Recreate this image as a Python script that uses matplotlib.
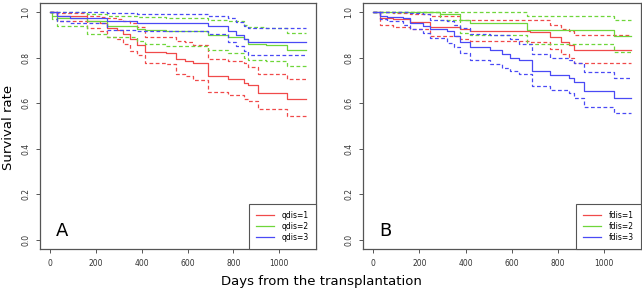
import matplotlib
matplotlib.use("Agg")
import matplotlib.pyplot as plt

# Kaplan-Meier estimates (days, survival, lower CI, upper CI)
end_day = 1116

# panel A - qdis groups
qdis1_t = [29, 159, 217, 246, 290, 319, 348, 377, 413, 507, 551, 587, 623, 688, 775, 848, 862, 906, 1036]
qdis1_s = [0.985, 0.96, 0.95, 0.93, 0.92, 0.905, 0.88, 0.855, 0.825, 0.82, 0.795, 0.785, 0.775, 0.72, 0.705, 0.69, 0.68, 0.645, 0.62]
qdis1_lo = [0.96, 0.93, 0.915, 0.89, 0.88, 0.86, 0.83, 0.81, 0.775, 0.77, 0.73, 0.72, 0.70, 0.65, 0.635, 0.62, 0.61, 0.575, 0.545]
qdis1_hi = [0.998, 0.985, 0.98, 0.975, 0.97, 0.96, 0.95, 0.935, 0.89, 0.89, 0.875, 0.87, 0.855, 0.795, 0.785, 0.775, 0.76, 0.73, 0.705]

qdis2_t = [8, 29, 159, 246, 377, 413, 507, 688, 775, 848, 862, 942, 1036]
qdis2_s = [0.985, 0.975, 0.96, 0.94, 0.925, 0.92, 0.915, 0.90, 0.89, 0.88, 0.86, 0.855, 0.835]
qdis2_lo = [0.97, 0.94, 0.905, 0.89, 0.875, 0.86, 0.85, 0.835, 0.82, 0.80, 0.79, 0.785, 0.765]
qdis2_hi = [1.0, 1.0, 0.99, 0.985, 0.98, 0.98, 0.975, 0.965, 0.96, 0.945, 0.935, 0.93, 0.91]

qdis3_t = [29, 87, 246, 377, 688, 775, 812, 848, 862]
qdis3_s = [0.985, 0.975, 0.96, 0.95, 0.94, 0.915, 0.90, 0.88, 0.87]
qdis3_lo = [0.96, 0.95, 0.92, 0.915, 0.905, 0.87, 0.85, 0.83, 0.81]
qdis3_hi = [1.0, 1.0, 0.995, 0.99, 0.985, 0.975, 0.955, 0.94, 0.93]

# panel B - fdis groups
fdis1_t = [29, 87, 159, 246, 377, 420, 681, 768, 812, 848, 870]
fdis1_s = [0.975, 0.97, 0.955, 0.935, 0.925, 0.915, 0.912, 0.89, 0.87, 0.855, 0.835]
fdis1_lo = [0.945, 0.935, 0.925, 0.895, 0.88, 0.875, 0.87, 0.84, 0.815, 0.80, 0.775]
fdis1_hi = [1.0, 0.995, 0.99, 0.985, 0.965, 0.965, 0.965, 0.945, 0.925, 0.915, 0.90]

fdis2_t = [290, 377, 420, 667, 1043]
fdis2_s = [0.99, 0.965, 0.95, 0.92, 0.895]
fdis2_lo = [0.965, 0.91, 0.90, 0.86, 0.825]
fdis2_hi = [1.0, 1.0, 1.0, 0.985, 0.965]

fdis3_t = [29, 58, 130, 159, 217, 246, 319, 348, 377, 420, 507, 558, 594, 630, 688, 768, 848, 870, 913, 1043]
fdis3_s = [0.985, 0.98, 0.975, 0.952, 0.94, 0.925, 0.915, 0.895, 0.87, 0.845, 0.835, 0.815, 0.80, 0.79, 0.74, 0.725, 0.71, 0.695, 0.655, 0.625]
fdis3_lo = [0.97, 0.96, 0.945, 0.925, 0.91, 0.885, 0.865, 0.845, 0.82, 0.79, 0.77, 0.755, 0.74, 0.73, 0.675, 0.66, 0.645, 0.625, 0.585, 0.555]
fdis3_hi = [1.0, 1.0, 1.0, 0.995, 0.99, 0.965, 0.96, 0.945, 0.93, 0.905, 0.90, 0.90, 0.88, 0.86, 0.815, 0.80, 0.79, 0.777, 0.735, 0.71]

colors = ["#f04a4a", "#6fd63a", "#4a4af5"]
frame = "#555555"


def km_step(ax, t, vals, color, ls):
    x = [0] + t + [end_day]
    y = [1.0] + vals + [vals[-1]]
    ax.step(x, y, where="post", color=color, lw=0.9, ls=ls)


def panel(ax, groups, names, letter):
    for (t, s, lo, hi), c in zip(groups, colors):
        km_step(ax, t, hi, c, (0, (3, 2)))
        km_step(ax, t, lo, c, (0, (3, 2)))
        km_step(ax, t, s, c, "-")
    ax.set_xlim(-44.6, 1160.6)
    ax.set_ylim(-0.04, 1.04)
    ax.set_xticks([0, 200, 400, 600, 800, 1000])
    ax.set_yticks([0.0, 0.2, 0.4, 0.6, 0.8, 1.0])
    ax.set_yticklabels(["0.0", "0.2", "0.4", "0.6", "0.8", "1.0"], rotation=90, va="center")
    ax.tick_params(labelsize=5.5, colors=frame, labelcolor="#333333", length=3, width=0.7, pad=4)
    for sp in ax.spines.values():
        sp.set_color(frame)
        sp.set_linewidth(0.9)
    ax.text(25, 0.0, letter, fontsize=13, va="bottom", ha="left")
    handles = [plt.Line2D([], [], color=c, lw=0.9) for c in colors]
    leg = ax.legend(handles, names, loc="lower right", fontsize=5.5, borderaxespad=0,
                    fancybox=False, edgecolor=frame, framealpha=1, handlelength=2.4,
                    labelspacing=0.3, borderpad=0.9, handletextpad=1.0)
    leg.get_frame().set_linewidth(0.8)


fig = plt.figure(figsize=(6.42, 2.90), dpi=100)
axA = fig.add_axes([0.0623, 0.1414, 0.4299, 0.8483])
axB = fig.add_axes([0.5654, 0.1414, 0.4330, 0.8483])

panel(axA, [(qdis1_t, qdis1_s, qdis1_lo, qdis1_hi),
            (qdis2_t, qdis2_s, qdis2_lo, qdis2_hi),
            (qdis3_t, qdis3_s, qdis3_lo, qdis3_hi)],
      ["qdis=1", "qdis=2", "qdis=3"], "A")
panel(axB, [(fdis1_t, fdis1_s, fdis1_lo, fdis1_hi),
            (fdis2_t, fdis2_s, fdis2_lo, fdis2_hi),
            (fdis3_t, fdis3_s, fdis3_lo, fdis3_hi)],
      ["fdis=1", "fdis=2", "fdis=3"], "B")

fig.text(0.013, 0.56, "Survival rate", rotation=90, va="center", ha="center", fontsize=9.5)
fig.text(0.5, 0.028, "Days from the transplantation", ha="center", va="center", fontsize=9.5)

fig.savefig("out.png", dpi=100)
